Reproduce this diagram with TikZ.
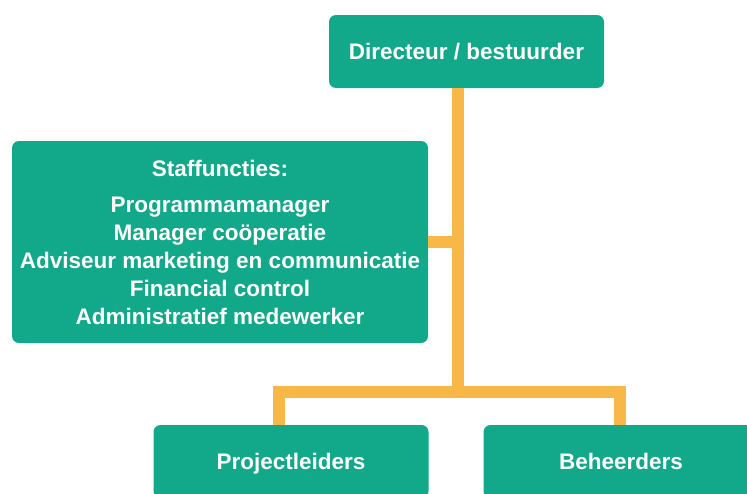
\documentclass[tikz,border=0pt]{standalone}
\usepackage{fontspec}
\setmainfont{Liberation Sans}
\definecolor{boxgreen}{RGB}{18,168,138}
\definecolor{linkorange}{RGB}{248,184,72}

\begin{document}
\begin{tikzpicture}[
    x=1pt, y=-1pt,
    every node/.style={fill=boxgreen, text=white, rounded corners=7pt, inner sep=0pt, align=center, font=\bfseries\fontsize{22.5}{28}\selectfont},
    unit/.style={minimum width=275pt, minimum height=73pt, text height=16pt, text depth=0pt},
    staff/.style={minimum width=416pt, minimum height=202pt},
    link/.style={draw=linkorange, line width=12.5pt}
]
\useasboundingbox (0,0) rectangle (747,493);
\node[unit] (dir) at (466.5,51.5) {Directeur / bestuurder};
\node[staff] (staf) at (220,242) {Staffuncties:\\[8pt]
    Programmamanager\\
    Manager coöperatie\\
    Adviseur marketing en communicatie\\
    Financial control\\
    Administratief medewerker};
\node[unit] (proj) at (291,461.5) {Projectleiders};
\node[unit] (beh) at (621,461.5) {Beheerders};
% junctions of the lines
\coordinate (hub) at (458,392);
\coordinate (projtop) at (279,425);
\coordinate (behtop) at (620,425);
\draw[link] (dir.south -| hub) -- (hub);
\draw[link] (staf.east) -- (staf.east -| hub);
\draw[link] (projtop) |- (hub) -| (behtop);
\end{tikzpicture}
\end{document}
